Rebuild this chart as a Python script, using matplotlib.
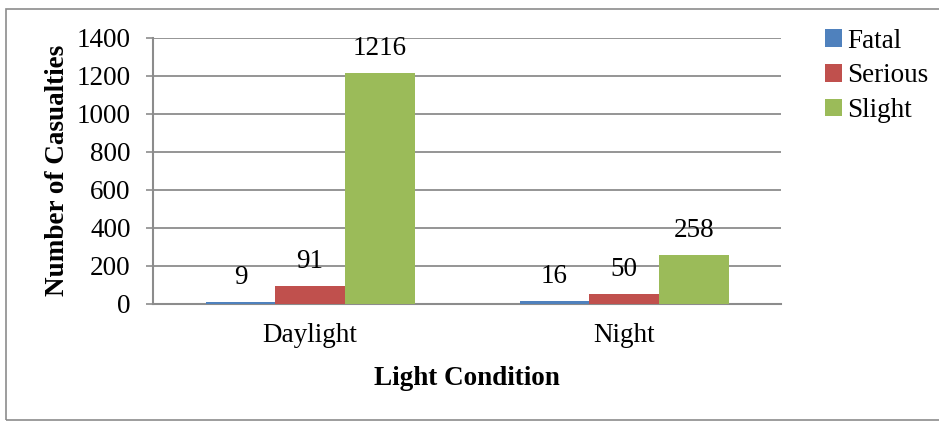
import matplotlib
matplotlib.use("Agg")
import matplotlib.pyplot as plt
import numpy as np
from matplotlib.patches import Rectangle

conditions = ["Daylight", "Night"]
series_names = ["Fatal", "Serious", "Slight"]
fatal = [9, 16]
serious = [91, 50]
slight = [1216, 258]
colors = ["#4F81BD", "#C0504D", "#9BBB59"]
y_ticks = [0, 200, 400, 600, 800, 1000, 1200, 1400]

plt.rcParams["font.family"] = ["Liberation Serif", "DejaVu Serif"]
FS = 19.5

fig = plt.figure(figsize=(9.39, 4.21), dpi=100)
ax = fig.add_axes([0.163, 0.279, 0.669, 0.631])

# outer chart frame
fig.patches.append(Rectangle((6 / 939, 1 / 421), 1.0, 411 / 421, transform=fig.transFigure,
                             fill=False, edgecolor="#8c8c8c", linewidth=1.2, zorder=0))

x = np.arange(len(conditions))
width = 0.222
for i, (name, vals) in enumerate(zip(series_names, [fatal, serious, slight])):
    pos = x + (i - 1) * width
    ax.bar(pos, vals, width=width, color=colors[i], edgecolor="none",
           label=name, zorder=3)
    for xp, v in zip(pos, vals):
        ax.annotate(str(v), (xp, v), xytext=(0, 8.5), textcoords="offset points",
                    ha="center", va="bottom", fontsize=FS, zorder=4)

ax.set_xlim(-0.5, 1.5)
ax.set_ylim(0, 1400)
ax.set_yticks(y_ticks)
ax.set_xticks(x)
ax.set_xticklabels(conditions)
ax.tick_params(axis="y", labelsize=FS, length=5, width=1.2, color="#8c8c8c", pad=11)
ax.tick_params(axis="x", labelsize=FS, length=0, pad=14)
ax.yaxis.grid(True, color="#8c8c8c", linewidth=1.3, zorder=0)
ax.set_axisbelow(True)
for s in ["top", "right"]:
    ax.spines[s].set_visible(False)
for s in ["left", "bottom"]:
    ax.spines[s].set_color("#8c8c8c")
    ax.spines[s].set_linewidth(1.5)

ax.set_ylabel("Number of Casualties", fontsize=FS, fontweight="bold", labelpad=5)
ax.set_xlabel("Light Condition", fontsize=FS, fontweight="bold", labelpad=13)

leg = fig.legend(loc="upper left", bbox_to_anchor=(0.867, 0.958), frameon=False,
                 fontsize=FS, handlelength=0.62, handleheight=0.62, handletextpad=0.2,
                 labelspacing=0.36, borderaxespad=0)

fig.savefig("out.png", dpi=100)
